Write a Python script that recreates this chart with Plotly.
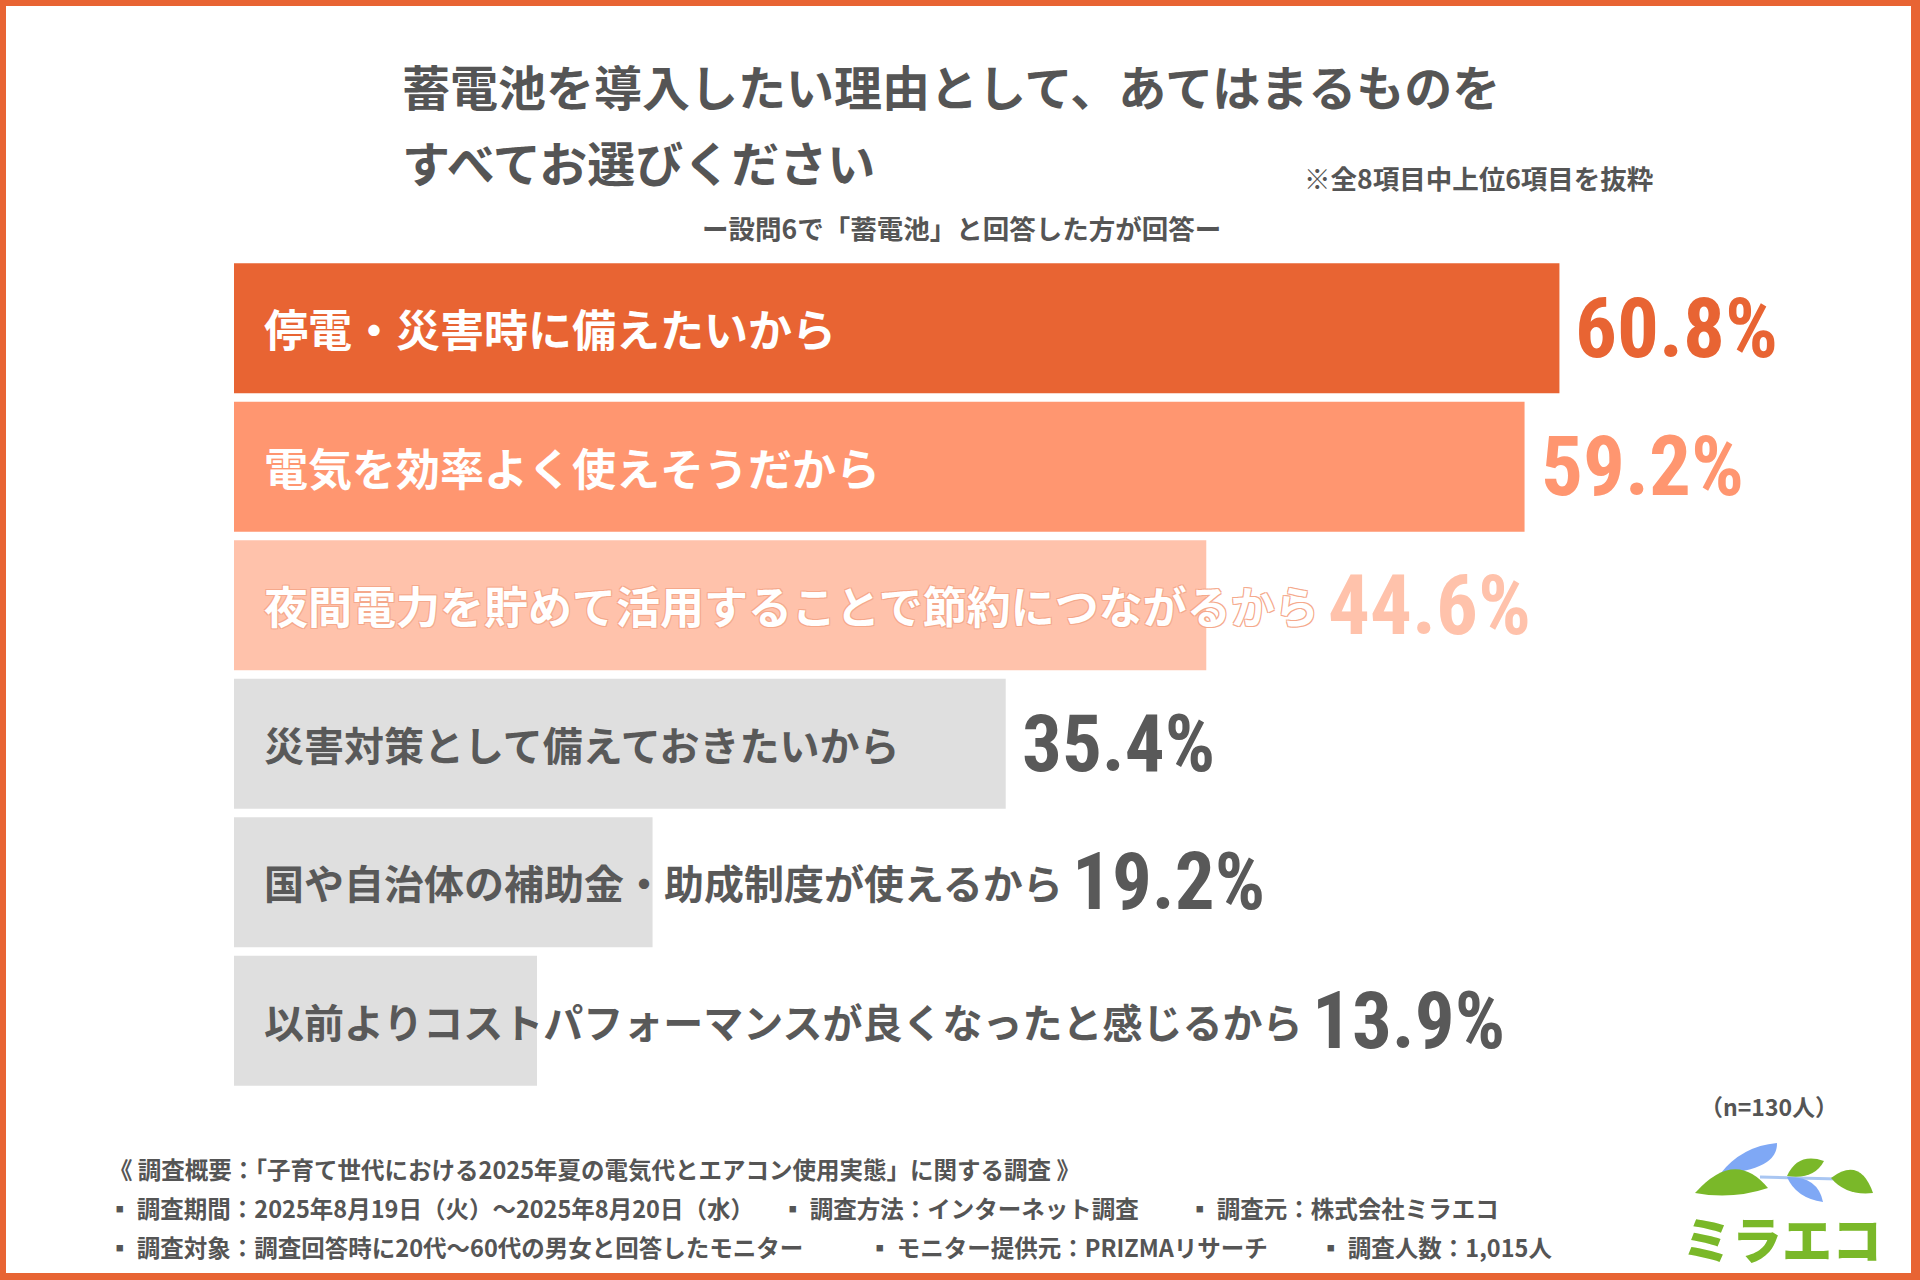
import plotly.graph_objects as go

# data
reasons = [
    "停電・災害時に備えたいから",
    "電気を効率よく使えそうだから",
    "夜間電力を貯めて活用することで節約につながるから",
    "災害対策として備えておきたいから",
    "国や自治体の補助金・助成制度が使えるから",
    "以前よりコストパフォーマンスが良くなったと感じるから",
]
shares = [60.8, 59.2, 44.6, 35.4, 19.2, 13.9]
bar_colors = ["#E86433", "#FF9670", "#FFC2AB", "#DFDFDF", "#DFDFDF", "#DFDFDF"]
value_colors = ["#E86433", "#FF9670", "#FFC2AB", "#595959", "#595959", "#595959"]
label_colors = ["#FFFFFF", "#FFFFFF", "#FFFFFF", "#595959", "#595959", "#595959"]

title_lines = ["蓄電池を導入したい理由として、あてはまるものを", "すべてお選びください"]
note = "※全8項目中上位6項目を抜粋"
subtitle = "ー設問6で「蓄電池」と回答した方が回答ー"
sample = "（n=130人）"
footer_head = "《 調査概要：「子育て世代における2025年夏の電気代とエアコン使用実態」に関する調査 》"
footer_rows = [
    ["▪ 調査期間：2025年8月19日（火）～2025年8月20日（水）", "▪ 調査方法：インターネット調査", "▪ 調査元：株式会社ミラエコ"],
    ["▪ 調査対象：調査回答時に20代～60代の男女と回答したモニター", "▪ モニター提供元：PRIZMAリサーチ", "▪ 調査人数：1,015人"],
]

W, H = 1920, 1280
JP = "Noto Sans CJK JP"
NUM = "Roboto Condensed, Liberation Sans Narrow, DejaVu Sans Condensed, Roboto"
ORANGE = "#E86433"
GRAY_TXT = "#555555"

# plot area in pixels
X0, X1 = 234, 1869
Y0, Y1 = 259, 1090
XMAX = 75
PPU = (X1 - X0) / XMAX  # pixels per percent


def px(x):
    return x / W


def py(y):
    return 1 - y / H


fig = go.Figure(go.Bar(
    x=shares, y=reasons, orientation="h",
    marker=dict(color=bar_colors, line=dict(width=0)),
    hoverinfo="skip",
))

ann = []
for i, (r, v) in enumerate(zip(reasons, shares)):
    top = i < 3
    fs = 44 if top else 40
    lab_font = dict(family=JP, size=fs, color=label_colors[i], weight="bold")
    if i == 2:
        lab_font["shadow"] = "1px 1px 0 #F5A98C, -1px -1px 0 #F5A98C, 1px -1px 0 #F5A98C, -1px 1px 0 #F5A98C"
    ann.append(dict(x=0, y=r, xref="x", yref="y", text=r, showarrow=False,
                    xanchor="left", xshift=28, font=lab_font))
    # value sits after the bar, or after the label where it runs past the bar
    text_end = (22 + len(r) * fs) / PPU
    ann.append(dict(x=max(v, text_end), y=r, xref="x", yref="y", text=f"{v}%",
                    showarrow=False, xanchor="left", xshift=14,
                    font=dict(family=NUM, size=83 if top else 79,
                              color=value_colors[i], weight="bold")))

# titles and notes
ann.append(dict(x=px(400), y=py(85), xref="paper", yref="paper", text=title_lines[0],
                showarrow=False, xanchor="left", yanchor="middle",
                font=dict(family=JP, size=48, color=GRAY_TXT, weight="bold")))
ann.append(dict(x=px(400), y=py(161), xref="paper", yref="paper", text=title_lines[1],
                showarrow=False, xanchor="left", yanchor="middle",
                font=dict(family=JP, size=48, color=GRAY_TXT, weight="bold")))
ann.append(dict(x=px(1655), y=py(177), xref="paper", yref="paper", text=note,
                showarrow=False, xanchor="right", yanchor="middle",
                font=dict(family=JP, size=26.5, color=GRAY_TXT, weight="bold")))
ann.append(dict(x=px(961), y=py(227), xref="paper", yref="paper", text=subtitle,
                showarrow=False, xanchor="center", yanchor="middle",
                font=dict(family=JP, size=26.5, color=GRAY_TXT, weight="bold")))
ann.append(dict(x=px(1840), y=py(1106), xref="paper", yref="paper", text=sample,
                showarrow=False, xanchor="right", yanchor="middle",
                font=dict(family=JP, size=23, color=GRAY_TXT, weight="bold")))

# footer
ann.append(dict(x=px(107), y=py(1169), xref="paper", yref="paper", text=footer_head,
                showarrow=False, xanchor="left", yanchor="middle",
                font=dict(family=JP, size=23.5, color=GRAY_TXT, weight="bold")))
col_x = [[106, 779, 1186], [106, 866, 1317]]
for row, xs, yy in zip(footer_rows, col_x, [1208, 1247]):
    for t, xx in zip(row, xs):
        ann.append(dict(x=px(xx), y=py(yy), xref="paper", yref="paper", text=t,
                        showarrow=False, xanchor="left", yanchor="middle",
                        font=dict(family=JP, size=23.5, color=GRAY_TXT, weight="bold")))

# logo text
ann.append(dict(x=px(1782), y=py(1237), xref="paper", yref="paper", text="ミラエコ",
                showarrow=False, xanchor="center", yanchor="middle",
                font=dict(family=JP, size=50, color="#7AB829", weight=900)))


def leaf(p0, c1, p1, c2):
    return (f"M {px(p0[0]):.5f},{py(p0[1]):.5f} Q {px(c1[0]):.5f},{py(c1[1]):.5f} "
            f"{px(p1[0]):.5f},{py(p1[1]):.5f} Q {px(c2[0]):.5f},{py(c2[1]):.5f} "
            f"{px(p0[0]):.5f},{py(p0[1]):.5f} Z")


GREEN, BLUE = "#7AB829", "#7FA8F5"
shapes = []
# frame
for x0, y0, x1, y1 in [(0, 0, 6, H), (0, 0, W, 6), (W - 9, 0, W, H), (0, H - 7, W, H)]:
    shapes.append(dict(type="rect", xref="paper", yref="paper", x0=px(x0), x1=px(x1),
                       y0=py(y1), y1=py(y0), fillcolor=ORANGE, line=dict(width=0), layer="above"))
# logo leaves
shapes.append(dict(type="path", xref="paper", yref="paper", fillcolor=BLUE, line=dict(width=0),
                   path=leaf((1720, 1174), (1742, 1146), (1777, 1143), (1778, 1170))))
shapes.append(dict(type="line", xref="paper", yref="paper", x0=px(1760), y0=py(1177),
                   x1=px(1838), y1=py(1179), line=dict(color="#A9C6F2", width=3)))
shapes.append(dict(type="path", xref="paper", yref="paper", fillcolor=GREEN, line=dict(width=0),
                   path=leaf((1695, 1193), (1735, 1148), (1768, 1188), (1732, 1200))))
shapes.append(dict(type="path", xref="paper", yref="paper", fillcolor=GREEN, line=dict(width=0),
                   path=leaf((1787, 1176), (1798, 1152), (1824, 1161), (1814, 1180))))
shapes.append(dict(type="path", xref="paper", yref="paper", fillcolor=BLUE, line=dict(width=0),
                   path=leaf((1787, 1177), (1818, 1176), (1823, 1202), (1796, 1198))))
shapes.append(dict(type="path", xref="paper", yref="paper", fillcolor=GREEN, line=dict(width=0),
                   path=leaf((1831, 1178), (1860, 1156), (1873, 1193), (1846, 1196))))

fig.update_layout(
    width=W, height=H,
    margin=dict(l=0, r=0, t=0, b=0),
    paper_bgcolor="white", plot_bgcolor="white",
    showlegend=False, bargap=0.063,
    xaxis=dict(domain=[px(X0), px(X1)], range=[0, XMAX], visible=False, fixedrange=True),
    yaxis=dict(domain=[py(Y1), py(Y0)], autorange="reversed", visible=False, fixedrange=True),
    annotations=ann, shapes=shapes,
)

fig.write_html("out.html", config={"displayModeBar": False},
               post_script="document.body.style.margin='0';")
